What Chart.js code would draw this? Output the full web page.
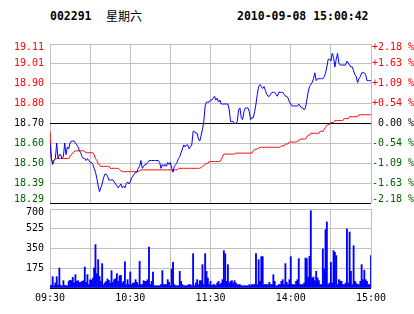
<!DOCTYPE html>
<html><head><meta charset="utf-8">
<script src="https://cdn.jsdelivr.net/npm/chart.js@4.4.1/dist/chart.umd.min.js"></script>
<style>
html,body{margin:0;padding:0;background:#fff;}
#wrap{position:relative;width:414px;height:314px;overflow:hidden;background:#fff;}
.hd{position:absolute;top:10px;font:bold 11.5px "DejaVu Sans Mono",monospace;line-height:12px;color:#000;white-space:pre;}
.cjk{position:absolute;top:10px;font:12px "Noto Sans CJK SC";line-height:12px;color:#000;}
canvas{position:absolute;left:0;}
</style></head><body>
<div id="wrap">
<div class="hd" style="left:50px">002291</div>
<div class="cjk" style="left:106px">星期六</div>
<div class="hd" style="left:237px">2010-09-08 15:00:42</div>
<canvas id="vol" width="414" height="119" style="top:195px"></canvas>
<canvas id="main" width="414" height="216" style="top:0"></canvas>
</div>
<script>
// ---- data ----
const price = [
18.60,18.52,18.49,18.51,18.52,18.60,18.52,18.54,18.54,18.52,
18.53,18.60,18.54,18.58,18.57,18.60,18.61,18.61,18.61,18.60,
18.59,18.58,18.56,18.55,18.53,18.52,18.52,18.51,18.52,18.51,
18.50,18.50,18.49,18.47,18.45,18.42,18.38,18.35,18.37,18.39,
18.42,18.44,18.44,18.43,18.41,18.41,18.41,18.41,18.40,18.39,
18.38,18.37,18.38,18.39,18.37,18.38,18.37,18.39,18.40,18.39,
18.40,18.42,18.43,18.44,18.45,18.45,18.47,18.48,18.51,18.47,
18.48,18.49,18.49,18.50,18.51,18.51,18.51,18.51,18.51,18.51,
18.51,18.51,18.50,18.47,18.49,18.48,18.49,18.48,18.50,18.49,
18.50,18.47,18.45,18.48,18.49,18.50,18.52,18.53,18.55,18.57,
18.59,18.58,18.59,18.59,18.57,18.58,18.59,18.66,18.66,18.65,
18.65,18.62,18.61,18.64,18.67,18.71,18.79,18.81,18.81,18.81,
18.82,18.82,18.83,18.84,18.82,18.83,18.81,18.82,18.80,18.80,
18.80,18.80,18.80,18.80,18.77,18.71,18.71,18.71,18.70,18.70,
18.71,18.77,18.78,18.73,18.72,18.76,18.78,18.78,18.78,18.76,
18.72,18.73,18.73,18.76,18.80,18.85,18.89,18.90,18.89,18.88,
18.89,18.87,18.85,18.84,18.84,18.85,18.86,18.86,18.86,18.85,
18.84,18.86,18.86,18.86,18.86,18.85,18.84,18.84,18.83,18.81,
18.80,18.79,18.79,18.79,18.79,18.79,18.80,18.79,18.78,18.78,
18.77,18.78,18.82,18.86,18.89,18.90,18.91,18.93,18.96,18.92,
18.93,18.93,18.93,18.93,18.93,18.94,18.96,18.99,19.03,19.03,
19.02,19.06,19.04,18.99,19.03,19.06,19.01,19.00,19.00,19.00,
19.00,19.00,19.02,19.01,19.00,18.99,18.99,18.97,18.95,18.94,
18.91,18.93,18.94,18.96,18.96,18.96,18.95,18.92,18.92,18.92,
18.92];
const avgPrice = [
18.66,18.52,18.50,18.51,18.52,18.52,18.52,18.52,18.52,18.52,
18.52,18.52,18.52,18.52,18.52,18.53,18.54,18.55,18.555,18.56,
18.56,18.56,18.56,18.56,18.56,18.56,18.555,18.55,18.55,18.55,
18.55,18.55,18.55,18.54,18.52,18.51,18.495,18.485,18.48,18.48,
18.48,18.48,18.48,18.48,18.48,18.47,18.47,18.47,18.47,18.47,
18.47,18.47,18.463,18.458,18.453,18.453,18.453,18.453,18.453,18.453,
18.453,18.453,18.453,18.453,18.453,18.453,18.453,18.458,18.462,18.462,
18.462,18.462,18.462,18.462,18.462,18.462,18.462,18.462,18.462,18.462,
18.462,18.462,18.462,18.462,18.462,18.462,18.462,18.462,18.462,18.462,
18.462,18.462,18.462,18.462,18.462,18.462,18.47,18.47,18.47,18.47,
18.47,18.47,18.47,18.47,18.47,18.47,18.47,18.47,18.47,18.47,
18.47,18.47,18.47,18.475,18.48,18.485,18.49,18.495,18.495,18.505,
18.505,18.505,18.505,18.505,18.505,18.505,18.505,18.505,18.515,18.53,
18.543,18.543,18.543,18.543,18.543,18.543,18.543,18.543,18.543,18.548,
18.548,18.548,18.548,18.548,18.548,18.548,18.548,18.548,18.548,18.548,
18.548,18.548,18.56,18.566,18.566,18.572,18.572,18.578,18.578,18.578,
18.578,18.578,18.578,18.578,18.578,18.578,18.578,18.578,18.578,18.578,
18.578,18.578,18.578,18.585,18.585,18.585,18.595,18.595,18.595,18.605,
18.605,18.605,18.605,18.605,18.605,18.61,18.61,18.62,18.62,18.62,
18.62,18.62,18.63,18.64,18.64,18.65,18.65,18.65,18.65,18.65,
18.65,18.65,18.66,18.66,18.66,18.67,18.68,18.69,18.695,18.695,
18.705,18.705,18.705,18.715,18.715,18.715,18.715,18.715,18.715,18.715,
18.725,18.725,18.725,18.725,18.735,18.735,18.735,18.735,18.735,18.735,
18.735,18.745,18.745,18.745,18.745,18.745,18.745,18.745,18.745,18.745,
18.745];
const volume = [
20,25,100,20,45,100,25,177,25,15,
65,25,20,20,60,68,65,95,45,118,
59,65,50,50,59,65,186,50,118,30,
74,68,89,177,384,127,251,103,60,216,
30,45,59,80,68,44,154,50,74,83,
127,59,109,112,44,59,233,30,74,30,
142,30,44,44,74,50,30,236,30,30,
65,59,59,74,363,30,59,142,20,20,
20,20,20,30,154,30,30,30,74,50,
20,168,227,30,20,20,20,148,59,30,
20,20,20,25,30,30,20,304,20,44,
74,30,65,65,207,30,304,148,89,30,
59,20,30,30,20,44,59,30,44,74,
331,304,59,207,44,59,65,44,65,44,
30,30,30,20,20,20,20,20,20,30,
20,30,30,30,304,30,251,59,278,278,
30,30,30,30,50,30,30,118,59,20,
20,30,30,59,74,30,216,50,30,74,
278,30,30,30,59,74,260,30,30,30,
44,266,260,97,281,685,89,97,65,148,
89,65,30,30,346,171,517,585,30,44,
227,44,331,316,287,30,74,62,59,30,
30,44,523,44,496,148,30,375,59,44,
30,30,59,207,74,157,74,59,30,30,
287];

const priceTicks = [18.292,18.394,18.496,18.598,18.70,18.802,18.904,19.006,19.108];
const priceTickLabels = ['18.29','18.39','18.50','18.60','18.70','18.80','18.90','19.01','19.11'];
const pctTicks = [-2.18,-1.635,-1.09,-0.545,0,0.545,1.09,1.635,2.18];
const pctTickLabels = ['-2.18 %','-1.63 %','-1.09 %','-0.54 %',' 0.00 %','+0.54 %','+1.09 %','+1.63 %','+2.18 %'];
const volTicks = [0,175,350,525,700];
const volTickLabels = ['','175','350','525','700'];
const gridMinutes = [0,30,60,90,120,150,180,210,240];
const timeLabelMinutes = [0,60,120,180,240];
const timeLabels = ['09:30','10:30','11:30','14:00','15:00'];

// ---- styles ----
const GRID = '#c0c0c0', RED = '#ff0000', GREEN = '#006000', BLACK = '#000000', BLUE = '#0000ff';
const FAM = '"DejaVu Sans Mono", monospace';
const edgeFont = (ctx, n) => ({family: FAM, size: 10, lineHeight: (ctx.index === 0 || ctx.index === n - 1) ? 0.7 : 1.2});
const edgeLabel = (text, i, n) => i === n - 1 ? ['', text] : (i === 0 ? [text, ''] : text);
const sideColor = i => i > 4 ? RED : (i === 4 ? BLACK : GREEN);

const pts = arr => arr.map((v, i) => ({x: i, y: v}));

new Chart(document.getElementById('main'), {
  type: 'line',
  data: {datasets: [
    {data: pts(price), borderColor: BLUE, borderWidth: 1, pointRadius: 0, tension: 0, yAxisID: 'y'},
    {data: pts(avgPrice), borderColor: RED, borderWidth: 1, pointRadius: 0, tension: 0, yAxisID: 'y'}
  ]},
  options: {
    responsive: false, animation: false, events: [],
    plugins: {legend: {display: false}, tooltip: {enabled: false}},
    layout: {padding: {top: 44, bottom: 13, left: 0, right: 0}},
    scales: {
      x: {type: 'linear', min: 0, max: 240,
        afterBuildTicks: s => { s.ticks = gridMinutes.map(v => ({value: v})); },
        afterFit: s => { s.height = 0; },
        ticks: {display: false},
        grid: {color: GRID, lineWidth: 1, drawTicks: false},
        border: {display: false}},
      y: {position: 'left', min: priceTicks[0], max: priceTicks[priceTicks.length - 1],
        afterBuildTicks: s => { s.ticks = priceTicks.map(v => ({value: v})); },
        afterFit: s => { s.width = 50; },
        ticks: {autoSkip: false, padding: 6,
          callback: (v, i) => edgeLabel(priceTickLabels[i], i, priceTicks.length),
          color: ctx => sideColor(ctx.index),
          font: ctx => edgeFont(ctx, priceTicks.length)},
        grid: {color: ctx => (ctx.index === 0 || ctx.index === 4) ? BLACK : GRID, lineWidth: 1, drawTicks: false},
        border: {display: false}},
      y2: {position: 'right', min: pctTicks[0], max: pctTicks[pctTicks.length - 1],
        afterBuildTicks: s => { s.ticks = pctTicks.map(v => ({value: v})); },
        afterFit: s => { s.width = 43; },
        ticks: {autoSkip: false, padding: 1,
          callback: (v, i) => edgeLabel(pctTickLabels[i], i, pctTicks.length),
          color: ctx => sideColor(ctx.index),
          font: ctx => edgeFont(ctx, pctTicks.length)},
        grid: {display: false, drawTicks: false},
        border: {display: false}}
    }
  }
});

new Chart(document.getElementById('vol'), {
  type: 'bar',
  data: {datasets: [
    {data: pts(volume), backgroundColor: BLUE, borderWidth: 0, barThickness: 1.2}
  ]},
  options: {
    responsive: false, animation: false, events: [],
    plugins: {legend: {display: false}, tooltip: {enabled: false}},
    layout: {padding: {top: 14, bottom: 0, left: 0, right: 43}},
    scales: {
      x: {type: 'linear', min: 0, max: 240, offset: false,
        afterBuildTicks: s => { s.ticks = gridMinutes.map(v => ({value: v})); },
        afterFit: s => { s.height = 26; },
        ticks: {autoSkip: false, maxRotation: 0, padding: 4, color: BLACK,
          font: {family: FAM, size: 10},
          callback: v => { const k = timeLabelMinutes.indexOf(v); return k >= 0 ? timeLabels[k] : ''; }},
        grid: {color: GRID, lineWidth: 1, drawTicks: false, offset: false},
        border: {display: false}},
      y: {position: 'left', min: 0, max: 700,
        afterBuildTicks: s => { s.ticks = volTicks.map(v => ({value: v})); },
        afterFit: s => { s.width = 50; },
        ticks: {autoSkip: false, padding: 6, color: BLACK,
          callback: (v, i) => (i === volTicks.length - 1 ? ['', volTickLabels[i]] : volTickLabels[i]),
          font: ctx => ({family: FAM, size: 10, lineHeight: ctx.index === volTicks.length - 1 ? 0.74 : 1.2})},
        grid: {color: ctx => ctx.index === 0 ? BLACK : GRID, lineWidth: 1, drawTicks: false},
        border: {display: false}}
    }
  }
});
</script>
</body></html>
